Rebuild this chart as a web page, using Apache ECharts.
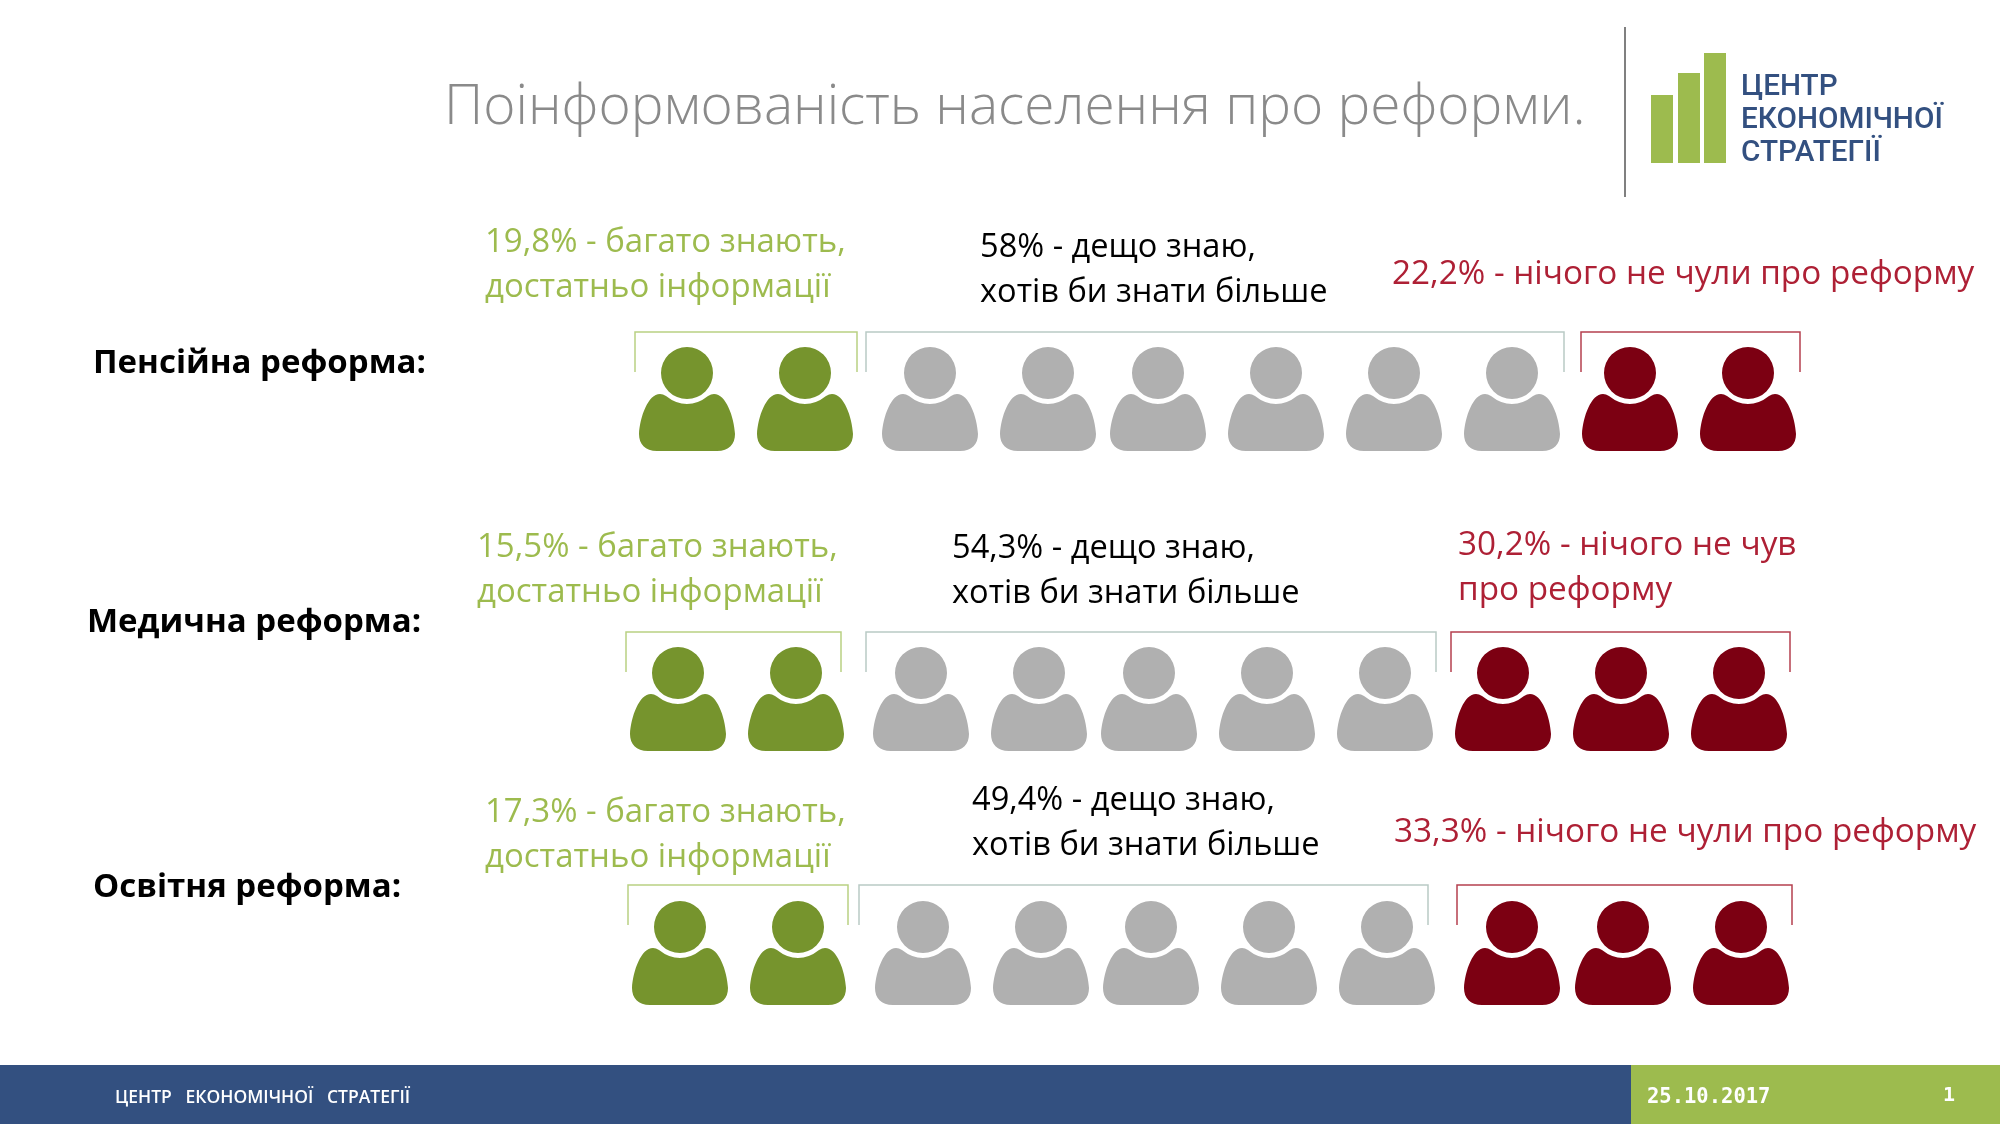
<!DOCTYPE html>
<html>
<head>
<meta charset="utf-8">
<title>Поінформованість населення про реформи</title>
<style>
html, body { margin: 0; padding: 0; background: #fff; }
#chart { width: 2000px; height: 1125px; }
</style>
<script src="https://cdn.jsdelivr.net/npm/echarts@6/dist/echarts.min.js"></script>
</head>
<body>
<div id="chart"></div>
<script>
// values
var reforms = ['Пенсійна реформа:', 'Медична реформа:', 'Освітня реформа:'];
var knowMuch = ['19,8%', '15,5%', '17,3%'];
var knowSome = ['58%', '54,3%', '49,4%'];
var knowNothing = ['22,2%', '30,2%', '33,3%'];
// one figure on the slide is about 10% of people
var iconsMuch = [2, 2, 2];
var iconsSome = [6, 5, 5];
var iconsNothing = [2, 3, 3];

var muchText = ' - багато знають,\nдостатньо інформації';
var someText = ' - дещо знаю,\nхотів би знати більше';
var nothingText = [' - нічого не чули про реформу', ' - нічого не чув\nпро реформу', ' - нічого не чули про реформу'];

// layout, px on the 2000x1125 slide
var iconX = [
  [687, 805, 930, 1048, 1158, 1276, 1394, 1512, 1630, 1748],
  [678, 796, 921, 1039, 1149, 1267, 1385, 1503, 1621, 1739],
  [680, 798, 923, 1041, 1151, 1269, 1387, 1512, 1623, 1741]
];
var iconY = [399, 699, 953];
var bracketY = [332, 632, 885];
var bracketX = [
  [[635, 857], [866, 1564], [1581, 1800]],
  [[626, 841], [866, 1436], [1451, 1790]],
  [[628, 848], [859, 1428], [1457, 1792]]
];
var muchPos = [[485, 243], [477, 548], [485, 813]];
var somePos = [[980, 248], [952, 549], [972, 801]];
var nothingPos = [[1392, 275], [1458, 546], [1394, 833]];
var reformPos = [[93, 364], [87, 623], [93, 888]];

var GREEN = '#76942d', GRAY = '#b0b0b0', RED = '#7c0012';
var GREEN_TEXT = '#9dbb4e', RED_TEXT = '#ae2035', BLUE = '#335080', LIME = '#9dbb4e';
var BRACKET = ['#b9d183', '#b9cac5', '#b5404f'];
var FONT = '"Open Sans", sans-serif';

var person = 'path://M48 0A26 26 0 1 1 48 52A26 26 0 1 1 48 0Z' +
  'M27 49Q37 57 48 57Q59 57 69 49Q72 47 75 47C87 47 95 70 96 87C96 97 90 104 78 104' +
  'L18 104C6 104 0 97 0 87C1 70 9 47 21 47Q24 47 27 49Z';

function iconData(from, counts) {
  var out = [];
  reforms.forEach(function (r, i) {
    var start = from(i);
    for (var k = 0; k < counts[i]; k++) {
      out.push([iconX[i][start + k], iconY[i]]);
    }
  });
  return out;
}

function iconSeries(name, color, data) {
  return {
    type: 'scatter',
    name: name,
    symbol: person,
    symbolSize: [96, 104],
    itemStyle: { color: color, opacity: 1 },
    silent: true,
    data: data
  };
}

var bracketData = [];
bracketX.forEach(function (row, i) {
  row.forEach(function (b, j) {
    bracketData.push([b[0], b[1], bracketY[i], j]);
  });
});

function textEl(x, y, str, color, size, extra, family) {
  var style = { x: x, y: y, text: str, fill: color, font: (extra || '') + ' ' + size + 'px ' + (family || FONT), textVerticalAlign: 'middle', lineHeight: 45 };
  return { type: 'text', z: 10, style: style };
}

var graphics = [
  textEl(444, 108, 'Поінформованість населення про реформи.', '#8a8a8a', 55, '300'),
  { type: 'rect', shape: { x: 1624, y: 27, width: 2, height: 170 }, style: { fill: '#808080' } },
  { type: 'rect', shape: { x: 1651, y: 95, width: 22, height: 68 }, style: { fill: LIME } },
  { type: 'rect', shape: { x: 1678, y: 73, width: 22, height: 90 }, style: { fill: LIME } },
  { type: 'rect', shape: { x: 1704, y: 53, width: 22, height: 110 }, style: { fill: LIME } },
  textEl(1741, 88, 'ЦЕНТР', BLUE, 29.7, '500', 'Roboto'),
  textEl(1741, 121, 'ЕКОНОМІЧНОЇ', BLUE, 29.7, '500', 'Roboto'),
  textEl(1741, 154, 'СТРАТЕГІЇ', BLUE, 29.7, '500', 'Roboto'),
  { type: 'rect', shape: { x: 0, y: 1065, width: 1631, height: 59 }, style: { fill: BLUE } },
  { type: 'rect', shape: { x: 1631, y: 1065, width: 369, height: 59 }, style: { fill: LIME } },
  textEl(115, 1098, 'ЦЕНТР   ЕКОНОМІЧНОЇ   СТРАТЕГІЇ', '#fff', 17.5, '600'),
  { type: 'text', style: { x: 1647, y: 1098, text: '25.10.2017', fill: '#fff', font: 'bold 20.5px "DejaVu Sans Mono"', textVerticalAlign: 'middle' } },
  { type: 'text', style: { x: 1943, y: 1096, text: '1', fill: '#fff', font: 'bold 20px "DejaVu Sans Mono"', textVerticalAlign: 'middle' } }
];

reforms.forEach(function (r, i) {
  graphics.push(textEl(reformPos[i][0], reformPos[i][1], r, '#000', 33, 'bold'));
  graphics.push(textEl(muchPos[i][0], muchPos[i][1] + 22, knowMuch[i] + muchText, GREEN_TEXT, 33));
  graphics.push(textEl(somePos[i][0], somePos[i][1] + 22, knowSome[i] + someText, '#000', 32.6));
  var two = nothingText[i].indexOf('\n') >= 0;
  graphics.push(textEl(nothingPos[i][0], nothingPos[i][1] + (two ? 22 : 0), knowNothing[i] + nothingText[i], RED_TEXT, 33.3));
});

var chart = echarts.init(document.getElementById('chart'));
chart.setOption({
  animation: false,
  grid: { left: 0, right: 0, top: 0, bottom: 0 },
  xAxis: { type: 'value', min: 0, max: 2000, show: false },
  yAxis: { type: 'value', min: 0, max: 1125, inverse: true, show: false },
  graphic: graphics,
  series: [
    iconSeries('Багато знають', GREEN, iconData(function () { return 0; }, iconsMuch)),
    iconSeries('Дещо знаю', GRAY, iconData(function (i) { return iconsMuch[i]; }, iconsSome)),
    iconSeries('Нічого не чули', RED, iconData(function (i) { return iconsMuch[i] + iconsSome[i]; }, iconsNothing)),
    {
      type: 'custom',
      silent: true,
      data: bracketData,
      renderItem: function (params, api) {
        var a = api.coord([api.value(0), api.value(2)]);
        var b = api.coord([api.value(1), api.value(2)]);
        var drop = 40;
        return {
          type: 'polyline',
          shape: { points: [[a[0], a[1] + drop], a, b, [b[0], b[1] + drop]] },
          style: { fill: null, stroke: BRACKET[api.value(3)], lineWidth: 1.5 }
        };
      }
    }
  ]
});

window.addEventListener('resize', function () {
  chart.resize();
});
</script>
</body>
</html>
